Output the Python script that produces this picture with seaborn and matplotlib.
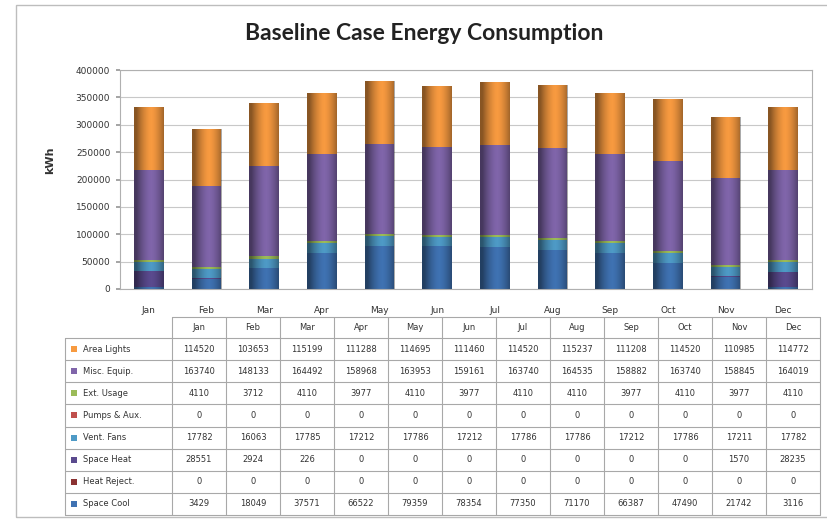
import matplotlib
matplotlib.use('Agg')
import matplotlib.pyplot as plt
import seaborn as sns
import pandas as pd
import numpy as np
from matplotlib.patches import Rectangle

months = ['Jan', 'Feb', 'Mar', 'Apr', 'May', 'Jun', 'Jul', 'Aug', 'Sep', 'Oct', 'Nov', 'Dec']

area_lights = [114520, 103653, 115199, 111288, 114695, 111460, 114520, 115237, 111208, 114520, 110985, 114772]
misc_equip = [163740, 148133, 164492, 158968, 163953, 159161, 163740, 164535, 158882, 163740, 158845, 164019]
ext_usage = [4110, 3712, 4110, 3977, 4110, 3977, 4110, 4110, 3977, 4110, 3977, 4110]
pumps_aux = [0, 0, 0, 0, 0, 0, 0, 0, 0, 0, 0, 0]
vent_fans = [17782, 16063, 17785, 17212, 17786, 17212, 17786, 17786, 17212, 17786, 17211, 17782]
space_heat = [28551, 2924, 226, 0, 0, 0, 0, 0, 0, 0, 1570, 28235]
heat_reject = [0, 0, 0, 0, 0, 0, 0, 0, 0, 0, 0, 0]
space_cool = [3429, 18049, 37571, 66522, 79359, 78354, 77350, 71170, 66387, 47490, 21742, 3116]

series_names = ['Area Lights', 'Misc. Equip.', 'Ext. Usage', 'Pumps & Aux.',
                'Vent. Fans', 'Space Heat', 'Heat Reject.', 'Space Cool']
series_values = [area_lights, misc_equip, ext_usage, pumps_aux,
                 vent_fans, space_heat, heat_reject, space_cool]
series_colors = ['#F79A40', '#8065AA', '#9BBB59', '#C0504D',
                 '#4E9AC6', '#5A4A8E', '#8B3232', '#3F72B2']

sns.set_theme(style='white')
plt.rcParams['font.family'] = ['DejaVu Sans']

W, H = 828, 520
fig = plt.figure(figsize=(W / 100, H / 100), dpi=100)

def fx(px):
    return px / W

def fy(py):
    return 1 - py / H

# outer chart frame
fig.patches.append(Rectangle((fx(16), fy(517)), fx(830) - fx(16), fy(5) - fy(517),
                             transform=fig.transFigure, fill=False, edgecolor='#BDBDBD', lw=1))

ax = fig.add_axes([fx(120), fy(289), fx(812) - fx(120), fy(70) - fy(289)])

df = pd.DataFrame(dict(zip(series_names, series_values)), index=months)
stack_order = series_names[::-1]           # bottom -> top
cum = df[stack_order].cumsum(axis=1)

# draw cumulative heights, tallest first, so each layer shows as a stacked segment
for name, color in zip(series_names, series_colors):
    sns.barplot(x=months, y=cum[name].values, color=color, saturation=1,
                width=0.52, edgecolor='none', ax=ax)

# excel-like cylinder shading over each full column
shade = np.linspace(-1, 1, 64)
alpha = np.clip(np.abs(shade - 0.15) ** 1.6 * 0.45, 0, 0.45)
rgba = np.zeros((1, 64, 4))
rgba[0, :, 3] = alpha
for p in ax.patches[:len(months)]:
    x0, y0 = p.get_x(), p.get_y()
    im = ax.imshow(rgba, extent=(x0, x0 + p.get_width(), y0, y0 + p.get_height()),
                   aspect='auto', zorder=3, interpolation='bilinear')
    im.set_clip_path(p)
ax.set_xlim(-0.5, len(months) - 0.5)

ax.set_ylim(0, 400000)
ax.set_yticks(np.arange(0, 400001, 50000))
ax.set_yticklabels([str(v) for v in range(0, 400001, 50000)], fontsize=6.5, color='#333333')
ax.tick_params(axis='x', labelsize=6.5, colors='#333333', pad=12, length=0)
ax.tick_params(axis='y', pad=4, length=3, left=True, color='#999999')
ax.yaxis.grid(True, color='#C8C8C8', lw=0.8)
ax.set_axisbelow(True)
for s in ax.spines.values():
    s.set_color('#B0B0B0')
    s.set_linewidth(0.8)
ax.set_xlabel('')
ax.set_ylabel('')

fig.text(fx(50), fy(160), 'kWh', rotation=90, ha='center', va='center',
         fontsize=8, fontweight='bold', color='#333333')
fig.text(fx(424), fy(34), 'Baseline Case Energy Consumption', ha='center', va='center',
         fontsize=16.5, fontweight='bold', color='#222222', family=['Lato', 'DejaVu Sans'])

# data table
tab = fig.add_axes([0, 0, 1, 1])
tab.set_xlim(0, W)
tab.set_ylim(H, 0)
tab.axis('off')

x_lab0, x_lab1, x_end = 65, 172, 820
col_w = (x_end - x_lab1) / len(months)
y_head0, y_head1, y_end = 317, 338, 515
row_h = (y_end - y_head1) / len(series_names)
grid_kw = dict(color='#A8A8A8', lw=0.8)

# header
tab.plot([x_lab1, x_end], [y_head0, y_head0], **grid_kw)
for i, m in enumerate(months):
    tab.text(x_lab1 + (i + 0.5) * col_w, (y_head0 + y_head1) / 2, m,
             ha='center', va='center', fontsize=6, color='#333333')
for i in range(len(months) + 1):
    xx = x_lab1 + i * col_w
    tab.plot([xx, xx], [y_head0, y_end], **grid_kw)
tab.plot([x_lab0, x_lab0], [y_head1, y_end], **grid_kw)

for r, (name, vals, color) in enumerate(zip(series_names, series_values, series_colors)):
    y0 = y_head1 + r * row_h
    yc = y0 + row_h / 2
    tab.plot([x_lab0, x_end], [y0, y0], **grid_kw)
    tab.add_patch(Rectangle((71, yc - 3), 6, 6, color=color, lw=0))
    tab.text(83, yc, name, ha='left', va='center', fontsize=6, color='#333333')
    for i, v in enumerate(vals):
        tab.text(x_lab1 + (i + 0.5) * col_w, yc, str(v), ha='center', va='center',
                 fontsize=6, color='#333333')
tab.plot([x_lab0, x_end], [y_end, y_end], **grid_kw)

fig.savefig('out.png', dpi=100)
